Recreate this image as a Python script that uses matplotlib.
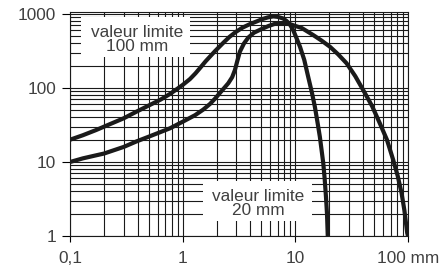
import matplotlib
matplotlib.use("Agg")
import matplotlib.pyplot as plt
from matplotlib.patches import Rectangle
from matplotlib.ticker import FixedLocator, LogLocator, NullFormatter

# curve peaking near 6 mm, falling to the 20 mm limit
size_a = [0.1, 0.13, 0.17, 0.2, 0.3, 0.39, 0.5, 0.64, 0.77, 0.9, 1.0,
          1.16, 1.3, 1.42, 1.6, 1.94, 2.3, 2.6, 2.97, 3.4, 3.95, 4.5,
          5.1, 5.7, 6.37, 7.0, 7.8, 8.4, 8.96, 9.5, 10.2, 11.0, 12.0,
          13.0, 14.0, 14.9, 15.7, 16.5, 17.1, 17.7, 18.2, 18.7, 19.1, 19.4]
val_a = [20, 23, 27, 30, 39, 48, 58, 70, 83, 98, 110,
         132, 158, 185, 230, 316, 410, 490, 574, 655, 730, 790,
         855, 900, 930, 915, 870, 800, 720, 620, 480, 361, 240,
         142, 88, 56, 35, 22, 14.5, 9.6, 6, 3.4, 2, 1.0]

# curve with the shoulder near 3 mm, falling to the 100 mm limit
size_b = [0.1, 0.13, 0.17, 0.2, 0.3, 0.39, 0.5, 0.64, 0.77, 1.0, 1.29,
          1.52, 1.75, 1.94, 2.2, 2.54, 2.75, 2.91, 3.05, 3.22, 3.5, 3.82,
          4.3, 5.0, 5.8, 6.8, 7.8, 8.96, 10.0, 11.4, 14.4, 17, 20.3, 24,
          28.5, 34, 40, 48, 56.4, 65, 74, 81, 87.7, 93, 98.4, 100]
val_b = [10, 11.2, 12.3, 13, 16, 19, 22, 25.5, 28.5, 35, 43,
         51, 61, 72, 90, 116, 140, 175, 230, 310, 400, 480,
         560, 625, 690, 750, 755, 730, 690, 647, 520, 440, 361, 285,
         216, 145, 94, 57, 33, 20, 10.6, 6.5, 3.8, 2.2, 1.1, 1.0]

x_ticks = [0.1, 1, 10, 100]
x_labels = ["0,1", "1", "10", "100 mm"]
y_ticks = [1, 10, 100, 1000]
y_labels = ["1", "10", "100", "1000"]

label_a = "valeur limite\n100 mm"
label_b = "valeur limite\n20 mm"

plt.rcParams["font.family"] = ["Liberation Sans", "DejaVu Sans"]
text_col = "#404040"

fig = plt.figure(figsize=(4.4, 2.7), dpi=100)
ax = fig.add_axes([70 / 440, 34 / 270, 338 / 440, 224 / 270])

ax.set_xscale("log")
ax.set_yscale("log")
ax.set_xlim(0.1, 100)
ax.set_ylim(1, 1065)

ax.xaxis.set_major_locator(FixedLocator(x_ticks))
ax.xaxis.set_minor_locator(LogLocator(base=10, subs=range(2, 10)))
ax.xaxis.set_minor_formatter(NullFormatter())
ax.set_xticklabels(x_labels)
ax.yaxis.set_major_locator(FixedLocator(y_ticks))
ax.yaxis.set_minor_locator(LogLocator(base=10, subs=range(2, 10)))
ax.yaxis.set_minor_formatter(NullFormatter())
ax.set_yticklabels(y_labels)

ax.grid(True, which="both", color="#1a1a1a", lw=0.8)
ax.set_axisbelow(True)
ax.tick_params(which="minor", length=0)
ax.tick_params(axis="y", which="major", length=6, width=0.8, pad=4,
               labelsize=12.4, labelcolor=text_col)
ax.tick_params(axis="x", which="major", length=4, width=0.8, pad=7,
               labelsize=12.4, labelcolor=text_col)
for s in ax.spines.values():
    s.set_linewidth(0.8)
    s.set_color("#1a1a1a")

ax.plot(size_a, val_a, color="#1a1a1a", lw=3, solid_joinstyle="round",
        solid_capstyle="butt", zorder=3)
ax.plot(size_b, val_b, color="#1a1a1a", lw=3, solid_joinstyle="round",
        solid_capstyle="butt", zorder=3)

# white label boxes cut into the grid
ax.add_patch(Rectangle((0.033, 0.799), 0.322, 0.179, transform=ax.transAxes,
                       facecolor="white", edgecolor="none", zorder=2))
ax.add_patch(Rectangle((0.393, 0.067), 0.323, 0.179, transform=ax.transAxes,
                       facecolor="white", edgecolor="none", zorder=2))
ax.text(0.198, 0.878, label_a, transform=ax.transAxes, ha="center",
        va="center", fontsize=12.4, color=text_col, linespacing=0.95, zorder=4)
ax.text(0.557, 0.146, label_b, transform=ax.transAxes, ha="center",
        va="center", fontsize=12.4, color=text_col, linespacing=0.95, zorder=4)

fig.savefig("out.png", dpi=100)
